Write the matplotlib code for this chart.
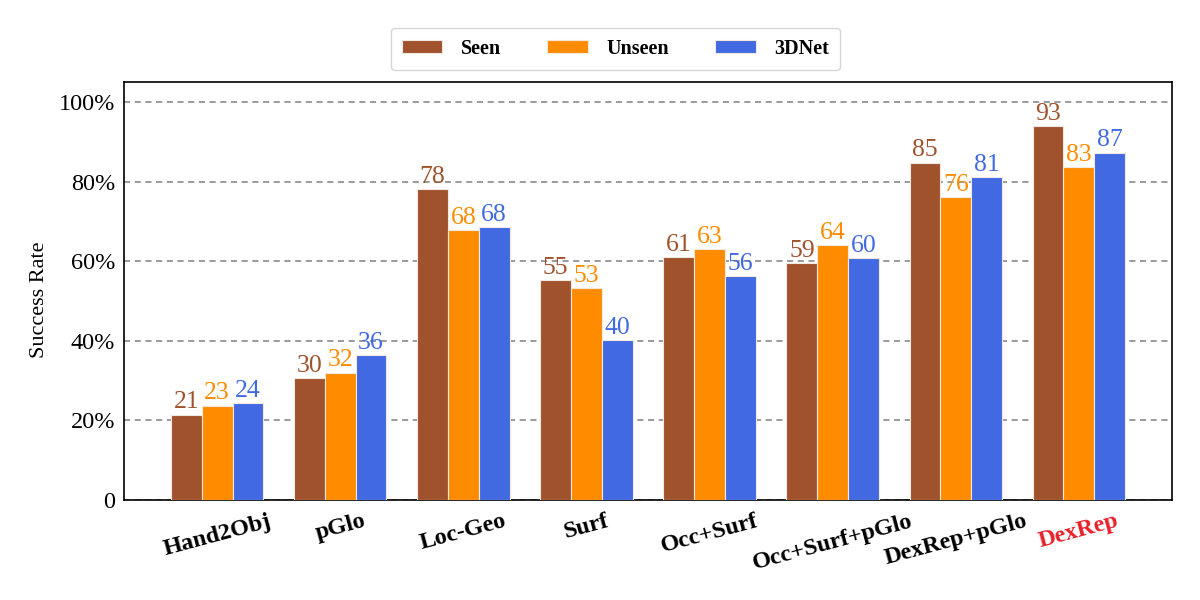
import matplotlib
matplotlib.use("Agg")
import matplotlib.pyplot as plt
import numpy as np

methods = ["Hand2Obj", "pGlo", "Loc-Geo", "Surf", "Occ+Surf", "Occ+Surf+pGlo", "DexRep+pGlo", "DexRep"]
seen = [21.4, 30.7, 78.1, 55.2, 61.1, 59.6, 84.8, 93.9]
unseen = [23.7, 32.0, 67.8, 53.2, 63.1, 64.1, 76.1, 83.7]
net3d = [24.4, 36.4, 68.6, 40.2, 56.3, 60.7, 81.2, 87.3]
seen_lbl = [21, 30, 78, 55, 61, 59, 85, 93]
unseen_lbl = [23, 32, 68, 53, 63, 64, 76, 83]
net3d_lbl = [24, 36, 68, 40, 56, 60, 81, 87]
series_names = ["Seen", "Unseen", "3DNet"]
colors = ["#A0522D", "#FF8C00", "#4169E1"]
yticks = [0, 20, 40, 60, 80, 100]
ytick_labels = ["0", "20%", "40%", "60%", "80%", "100%"]

plt.rcParams['font.family'] = ['Liberation Serif', 'DejaVu Serif']

fig = plt.figure(figsize=(12, 6), dpi=100)
ax = fig.add_axes([0.103, 0.167, 0.874, 0.696])

x = np.arange(len(methods))
w = 0.25
for i, (vals, lbls) in enumerate([(seen, seen_lbl), (unseen, unseen_lbl), (net3d, net3d_lbl)]):
    pos = x + (i - 1) * w
    ax.bar(pos, vals, width=w, color=colors[i], edgecolor="#f2e8e0", linewidth=0.8,
           label=series_names[i], zorder=3)
    for p, v, l in zip(pos, vals, lbls):
        ax.text(p, v + 0.3, str(l), ha="center", va="bottom", fontsize=18.5, color=colors[i], zorder=4)

ax.set_xlim(-0.76, 7.76)
ax.set_ylim(0, 105)
ax.set_yticks(yticks)
ax.set_yticklabels(ytick_labels, fontsize=17.5)
ax.set_xticks(x)
ax.set_xticklabels(methods, fontsize=17.5, fontweight="bold", rotation=15, ha="center")
ax.get_xticklabels()[-1].set_color("#E8202A")
ax.tick_params(axis="x", direction="in", length=6, width=1.2, pad=8)
ax.tick_params(axis="y", direction="in", length=0, pad=6)
ax.set_ylabel("Success Rate", fontsize=16)
ax.yaxis.set_label_coords(-0.071, 0.48)
ax.yaxis.grid(True, linestyle=(0, (4, 3)), color="gray", linewidth=1.1, zorder=0)
ax.set_axisbelow(True)
for s in ax.spines.values():
    s.set_linewidth(1.2)

fig.legend(loc="center", bbox_to_anchor=(0.513, 0.919), ncol=3, frameon=True,
           prop={"weight": "bold", "size": 14.5}, handlelength=2.0, handleheight=0.62,
           columnspacing=2.3, handletextpad=0.93, borderpad=0.55, fancybox=True,
           edgecolor="#cccccc")

fig.savefig("out.png", dpi=100)
